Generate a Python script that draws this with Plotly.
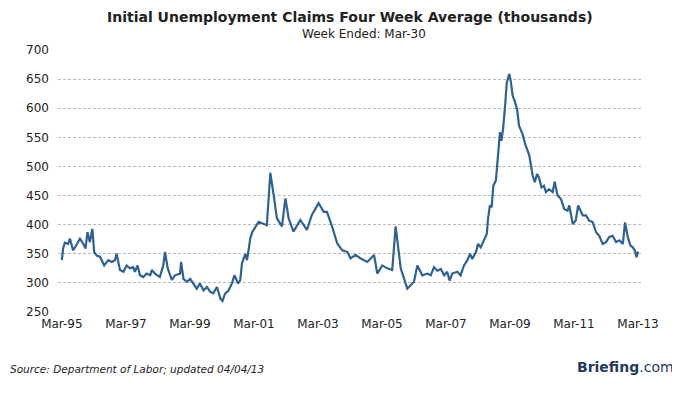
import plotly.graph_objects as go

dates = [
    "1995-03-01", "1995-03-15", "1995-04-04", "1995-05-12", "1995-06-01", "1995-07-07",
    "1995-08-15", "1995-09-23", "1995-11-01", "1995-11-26", "1995-12-18", "1996-01-15",
    "1996-02-12", "1996-03-04", "1996-04-01", "1996-05-09", "1996-06-26", "1996-08-12",
    "1996-09-21", "1996-10-26", "1996-11-15", "1996-12-23", "1997-02-01", "1997-03-09",
    "1997-04-15", "1997-05-23", "1997-06-12", "1997-07-12", "1997-08-09", "1997-09-15",
    "1997-10-23", "1997-12-04", "1997-12-21", "1998-01-26", "1998-03-23", "1998-05-01",
    "1998-05-21", "1998-06-21", "1998-08-07", "1998-09-12", "1998-11-09", "1998-11-21",
    "1998-12-18", "1999-01-26", "1999-03-04", "1999-04-09", "1999-05-18", "1999-06-23",
    "1999-08-04", "1999-09-12", "1999-10-18", "1999-11-23", "2000-01-04", "2000-02-12",
    "2000-03-07", "2000-04-07", "2000-05-15", "2000-06-23", "2000-07-21", "2000-09-01",
    "2000-09-26", "2000-10-15", "2000-11-23", "2000-12-12", "2001-01-18", "2001-02-09",
    "2001-03-15", "2001-04-23", "2001-07-26", "2001-09-04", "2001-10-12", "2001-11-18",
    "2002-01-15", "2002-02-23", "2002-04-01", "2002-05-26", "2002-08-12", "2002-10-26",
    "2002-12-23", "2003-03-09", "2003-05-07", "2003-06-12", "2003-08-09", "2003-10-07",
    "2003-12-04", "2004-02-01", "2004-03-07", "2004-05-04", "2004-07-01", "2004-09-15",
    "2004-12-01", "2005-01-07", "2005-03-04", "2005-05-01", "2005-06-26", "2005-08-04",
    "2005-10-01", "2005-12-15", "2006-03-01", "2006-04-09", "2006-06-04", "2006-08-01",
    "2006-09-09", "2006-10-15", "2006-11-23", "2007-01-01", "2007-02-09", "2007-03-15",
    "2007-04-12", "2007-05-12", "2007-07-09", "2007-08-15", "2007-09-23", "2007-11-01",
    "2007-12-01", "2007-12-26", "2008-02-07", "2008-03-01", "2008-04-01", "2008-05-09",
    "2008-06-09", "2008-06-23", "2008-07-15", "2008-08-04", "2008-08-23", "2008-09-21",
    "2008-10-09", "2008-11-07", "2008-11-23", "2008-12-12", "2009-01-04", "2009-01-23",
    "2009-02-21", "2009-03-09", "2009-04-01", "2009-04-23", "2009-05-23", "2009-06-12",
    "2009-07-21", "2009-08-26", "2009-10-07", "2009-11-15", "2009-12-09", "2010-01-04",
    "2010-01-26", "2010-02-23", "2010-03-23", "2010-04-15", "2010-05-21", "2010-07-01",
    "2010-07-23", "2010-08-26", "2010-10-04", "2010-11-09", "2010-12-18", "2011-01-07",
    "2011-02-15", "2011-03-21", "2011-04-18", "2011-06-09", "2011-07-15", "2011-08-21",
    "2011-10-01", "2011-11-09", "2011-12-15", "2012-01-23", "2012-03-01", "2012-04-07",
    "2012-05-15", "2012-06-23", "2012-08-01", "2012-09-09", "2012-10-04", "2012-11-04",
    "2012-12-04", "2013-01-01", "2013-01-23", "2013-02-12", "2013-03-01",
]

claims = [
    339, 359, 369, 367, 376, 356,
    365, 376, 367, 359, 387, 370,
    393, 353, 347, 345, 330, 339,
    336, 339, 350, 322, 319, 330,
    325, 327, 319, 330, 313, 310,
    316, 313, 322, 316, 310, 330,
    353, 325, 305, 313, 316, 336,
    307, 302, 307, 299, 290, 299,
    287, 293, 285, 282, 293, 273,
    269, 282, 287, 299, 313, 299,
    305, 333, 350, 339, 376, 387,
    396, 405, 399, 489, 451, 411,
    397, 445, 411, 388, 408, 391,
    417, 437, 422, 422, 397, 368,
    356, 353, 342, 348, 342, 336,
    348, 316, 330, 325, 322, 397,
    325, 290, 302, 330, 313, 316,
    313, 327, 321, 324, 313, 319,
    304, 316, 319, 313, 330, 339,
    350, 341, 353, 367, 361, 373,
    384, 410, 433, 430, 467, 476,
    513, 559, 544, 564, 604, 644,
    659, 647, 621, 613, 596, 570,
    556, 536, 519, 484, 473, 487,
    481, 464, 467, 456, 461, 456,
    474, 450, 444, 427, 424, 433,
    401, 407, 433, 416, 416, 407,
    404, 387, 381, 367, 370, 379,
    381, 370, 373, 367, 404, 379,
    364, 361, 356, 344, 354,
]

tick_dates = ["1995-03-01", "1997-03-01", "1999-03-01", "2001-03-01", "2003-03-01",
              "2005-03-01", "2007-03-01", "2009-03-01", "2011-03-01", "2013-03-01"]
tick_labels = ["Mar-95", "Mar-97", "Mar-99", "Mar-01", "Mar-03",
               "Mar-05", "Mar-07", "Mar-09", "Mar-11", "Mar-13"]
y_ticks = [250, 300, 350, 400, 450, 500, 550, 600, 650, 700]

title_text = "Initial Unemployment Claims Four Week Average (thousands)"
subtitle_text = "Week Ended: Mar-30"
source_text = "Source: Department of Labor; updated 04/04/13"

FONT = "DejaVu Sans"

# The page places the figure 8px in from the top-left corner (body margin),
# so the figure is sized to fill the remaining window area.
OFF = 8
W, H = 680 - OFF, 398 - OFF
ML, MR, MT, MB = 58 - OFF, 39, 50 - OFF, H - (312 - OFF)
PW = W - ML - MR
PH = H - MT - MB


def px(x):
    return (x - OFF - ML) / PW


def py(y):
    return (H - MB - (y - OFF)) / PH


fig = go.Figure()
fig.add_trace(go.Scatter(
    x=dates, y=claims, mode="lines",
    line=dict(color="#2f6191", width=2.2),
    hoverinfo="x+y",
))

fig.update_layout(
    width=W, height=H,
    margin=dict(l=ML, r=MR, t=MT, b=MB),
    paper_bgcolor="white", plot_bgcolor="white",
    showlegend=False,
    font=dict(family=FONT, color="#222222", size=12),
    xaxis=dict(
        type="date",
        range=["1995-01-16", "2013-04-04"],
        tickvals=tick_dates, ticktext=tick_labels,
        showgrid=False, showline=False, zeroline=False,
        ticks="", tickfont=dict(size=12, color="#222222"),
        ticklabelstandoff=3,
    ),
    yaxis=dict(
        range=[250, 700],
        tickvals=y_ticks,
        showgrid=True, gridcolor="#b8b8b8", gridwidth=1, griddash="3px,2px",
        showline=False, zeroline=False,
        ticks="", tickfont=dict(size=12, color="#222222"),
        ticklabelstandoff=8,
    ),
    annotations=[
        dict(text="<b>" + title_text + "</b>", x=px(350), y=py(17), xref="paper", yref="paper",
             showarrow=False, yanchor="middle",
             font=dict(size=14, color="#222222", family=FONT)),
        dict(text=subtitle_text, x=px(364), y=py(34), xref="paper", yref="paper",
             showarrow=False, yanchor="middle",
             font=dict(size=12, color="#222222", family=FONT)),
        dict(text="<i>" + source_text + "</i>", x=px(8), y=py(369), xref="paper", yref="paper",
             showarrow=False, xanchor="left", yanchor="middle",
             font=dict(size=10.5, color="#222222", family=FONT)),
        dict(text="<b>Briefing</b>.com", x=px(675), y=py(367), xref="paper", yref="paper",
             showarrow=False, xanchor="right", yanchor="middle", borderpad=0,
             font=dict(size=14, color="#1f3a60", family=FONT)),
    ],
)

fig.write_html("out.html")
